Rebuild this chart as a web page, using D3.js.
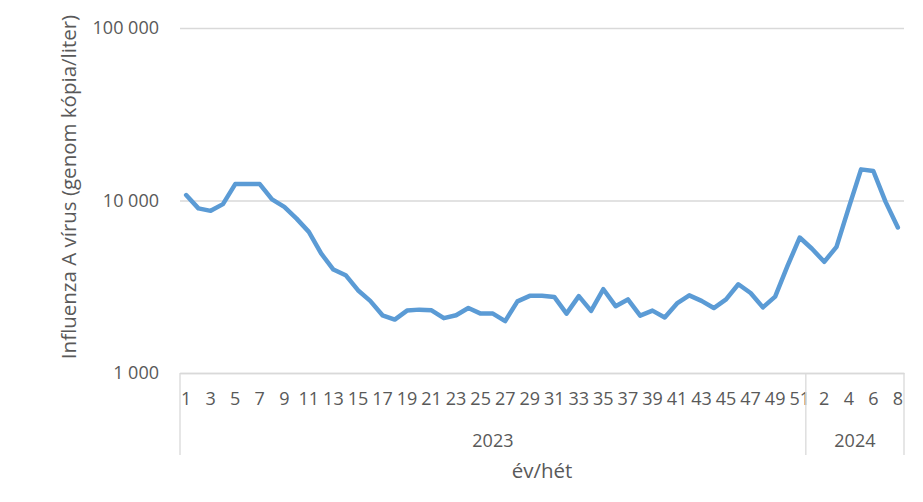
<!DOCTYPE html>
<html>
<head>
<meta charset="utf-8">
<script src="https://cdn.jsdelivr.net/npm/d3@7"></script>
<style>
  html, body { margin: 0; padding: 0; background: #ffffff; }
  svg { display: block; }
  text { font-family: "Open Sans", "Liberation Sans", sans-serif; fill: #595959; }
</style>
</head>
<body>
<svg id="chart" width="923" height="502"></svg>
<script>
// ---- data ----
const years = ["2023", "2024"];
const weeks2023 = [1,2,3,4,5,6,7,8,9,10,11,12,13,14,15,16,17,18,19,20,21,22,23,24,25,26,27,28,29,30,31,32,33,34,35,36,37,38,39,40,41,42,43,44,45,46,47,48,49,50,51];
const values2023 = [10750, 9000, 8710, 9530, 12450, 12450, 12450, 10150, 9190, 7850,
                    6580, 4930, 3980, 3690, 3020, 2620, 2160, 2040, 2300, 2330,
                    2310, 2080, 2160, 2380, 2210, 2210, 2000, 2600, 2800, 2800,
                    2760, 2210, 2790, 2290, 3060, 2440, 2670, 2150, 2300, 2100,
                    2530, 2820, 2620, 2380, 2670, 3270, 2910, 2400, 2770, 4160, 6100];
const weeks2024 = [1,2,3,4,5,6,7,8];
const values2024 = [5250, 4410, 5390, 9100, 15150, 14820, 9820, 6980];
const yTicks = [1000, 10000, 100000];
const yTickLabels = ["1 000", "10 000", "100 000"];
const yTitle = "Influenza A vírus (genom kópia/liter)";
const xTitle = "év/hét";

// ---- build rows ----
const rows = [];
weeks2023.forEach((w, i) => rows.push({key: "2023-" + w, year: "2023", week: w, value: values2023[i]}));
weeks2024.forEach((w, i) => rows.push({key: "2024-" + w, year: "2024", week: w, value: values2024[i]}));

const svg = d3.select("#chart");
const pL = 180, pR = 904, pT = 28, pB = 373;

const x = d3.scaleBand().domain(rows.map(d => d.key)).range([pL, pR]).padding(0);
const y = d3.scaleLog().domain([1000, 100000]).range([pB, pT]);
const cx = k => x(k) + x.bandwidth() / 2;

// gridlines (including baseline)
const grid = svg.append("g").attr("transform", `translate(${pL},0)`)
  .call(d3.axisLeft(y).tickValues(yTicks).tickSize(-(pR - pL)).tickFormat(""));
grid.select(".domain").remove();
grid.selectAll(".tick line").attr("stroke", "#d9d9d9").attr("stroke-width", 1.3);

// y axis labels
const yAxis = svg.append("g").attr("transform", `translate(${pL},0)`)
  .call(d3.axisLeft(y).tickValues(yTicks).tickSize(0).tickPadding(21)
        .tickFormat(d => yTickLabels[yTicks.indexOf(d)]));
yAxis.select(".domain").remove();
yAxis.selectAll("text").style("font-size", "18px").attr("fill", "#595959")
  .style("font-family", "'Open Sans', sans-serif");

// x axis (week labels, every other)
const oddKeys = rows.filter((d, i) => i % 2 === 0).map(d => d.key);
const weekOf = {}; rows.forEach(d => weekOf[d.key] = d.week);
const xAxis = svg.append("g").attr("transform", `translate(0,${pB})`)
  .call(d3.axisBottom(x).tickValues(oddKeys).tickSize(0).tickPadding(19)
        .tickFormat(k => weekOf[k]));
xAxis.select(".domain").attr("stroke", "#d9d9d9").attr("stroke-width", 1.3);
xAxis.selectAll("text").style("font-size", "18px").attr("fill", "#595959")
  .style("font-family", "'Open Sans', sans-serif");

// group separators and year labels
const groups = years.map(yr => {
  const keys = rows.filter(d => d.year === yr).map(d => d.key);
  return {year: yr, x0: x(keys[0]), x1: x(keys[keys.length - 1]) + x.bandwidth()};
});
const seps = [groups[0].x0].concat(groups.map(g => g.x1));
svg.append("g").selectAll("line").data(seps).join("line")
  .attr("x1", d => d).attr("x2", d => d)
  .attr("y1", pB).attr("y2", 455)
  .attr("stroke", "#d9d9d9").attr("stroke-width", 1.3);
svg.append("g").selectAll("text").data(groups).join("text")
  .attr("x", g => (g.x0 + g.x1) / 2).attr("y", 447)
  .attr("text-anchor", "middle").style("font-size", "18px")
  .text(g => g.year);

// line
const line = d3.line().x(d => cx(d.key)).y(d => y(d.value));
svg.append("path").datum(rows)
  .attr("d", line).attr("fill", "none")
  .attr("stroke", "#5b9bd5").attr("stroke-width", 4.5)
  .attr("stroke-linejoin", "round").attr("stroke-linecap", "round");

// axis titles
svg.append("text").attr("x", (pL + pR) / 2).attr("y", 478)
  .attr("text-anchor", "middle").style("font-size", "20.5px").text(xTitle);
svg.append("text").attr("transform", "translate(68,187) rotate(-90)")
  .attr("text-anchor", "middle").attr("dominant-baseline", "central")
  .style("font-size", "20.5px").text(yTitle);
</script>
</body>
</html>
